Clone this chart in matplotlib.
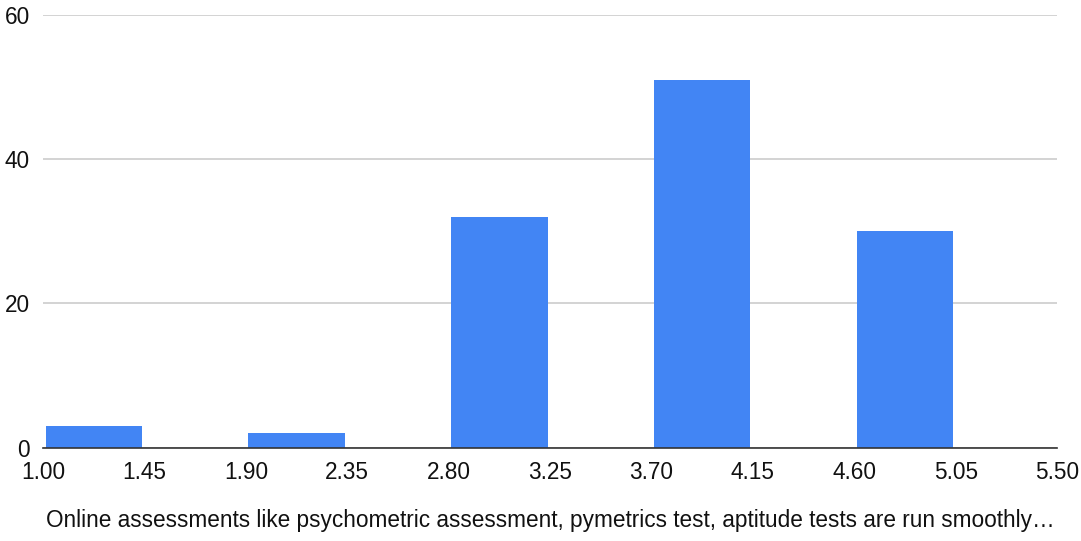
import matplotlib
matplotlib.use('Agg')
from matplotlib import pyplot as plt

plt.rcParams['font.family'] = ['Liberation Sans', 'DejaVu Sans']

# histogram bins (width 0.45) and response counts
bin_edges = [1.00, 1.45, 1.90, 2.35, 2.80, 3.25, 3.70, 4.15, 4.60, 5.05, 5.50]
counts = [3, 0, 2, 0, 32, 0, 51, 0, 30, 0]
tick_labels = ['%.2f' % e for e in bin_edges]

question = ('Online assessments like psychometric assessment, pymetrics test, '
            'aptitude tests are run smoothly\u2026')

fig = plt.figure(figsize=(10.81, 5.41), dpi=100)
ax = fig.add_axes([0.0398, 0.1725, 0.9382, 0.7998])

width = bin_edges[1] - bin_edges[0]
lefts = bin_edges[:-1]
ax.bar([l + width * 0.5 for l in lefts], counts, width=width * 0.95,
       color='#4285F4', zorder=3)

ax.set_xlim(bin_edges[0], bin_edges[-1])
ax.set_ylim(0, 60)
ax.set_xticks(bin_edges)
ax.set_xticklabels(tick_labels)
ax.set_yticks([0, 20, 40, 60])

ax.grid(axis='y', color='#cccccc', linewidth=1.2, zorder=0)
for side in ['top', 'right', 'left']:
    ax.spines[side].set_visible(False)
ax.spines['bottom'].set_color('#333333')
ax.spines['bottom'].set_linewidth(1.2)
ax.spines['bottom'].set_zorder(4)

ax.tick_params(axis='both', length=0, labelsize=16.3, colors='#111111')
ax.tick_params(axis='y', pad=9.5)
ax.tick_params(axis='x', pad=9.5)

ax.set_xlabel(question, fontsize=16.3, color='#111111', labelpad=18)

plt.savefig('out.png', dpi=100)
